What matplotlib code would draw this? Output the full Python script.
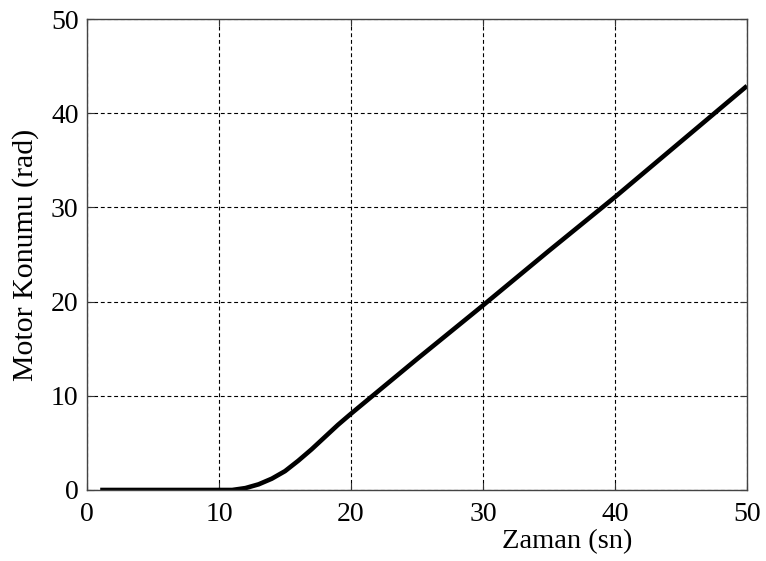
import matplotlib.pyplot as plt

plt.rcParams["font.family"] = ["Liberation Serif", "DejaVu Serif"]

# motor position response (time in s, position in rad)
zaman = [1, 3, 6, 9, 11, 12, 13, 14, 15, 16, 17, 18, 19, 20, 25, 30, 35, 40, 45, 50]
konum = [0, 0, 0, 0, 0, 0.2, 0.6, 1.2, 2.0, 3.1, 4.3, 5.6, 6.9, 8.1, 13.9, 19.6, 25.4, 31.1, 37.0, 42.9]

fig = plt.figure(figsize=(7.66, 5.61), dpi=100)
ax = fig.add_axes([0.1136, 0.1266, 0.8616, 0.8395])

ax.plot(zaman, konum, color="black", linewidth=3.3, solid_capstyle="butt")

ax.set_xlim(0, 50)
ax.set_ylim(0, 50)
ax.set_xticks([0, 10, 20, 30, 40, 50])
ax.set_yticks([0, 10, 20, 30, 40, 50])
ax.grid(True, color="black", linestyle=(0, (3.5, 2.5)), linewidth=0.8)
ax.tick_params(direction="in", length=5, width=0.8, top=True, right=True,
               labelsize=20, colors="#333333", labelcolor="black")
ax.tick_params(axis="x", pad=9)
ax.tick_params(axis="y", pad=6)
for s in ax.spines.values():
    s.set_color("#444444")
    s.set_linewidth(1.0)

ax.set_xlabel("Zaman (sn)", fontsize=20.5)
ax.xaxis.set_label_coords(0.728, -0.082)
ax.set_ylabel("Motor Konumu (rad)", fontsize=21.5)
ax.yaxis.set_label_coords(-0.072, 0.5)

fig.savefig("out.png", dpi=100)
